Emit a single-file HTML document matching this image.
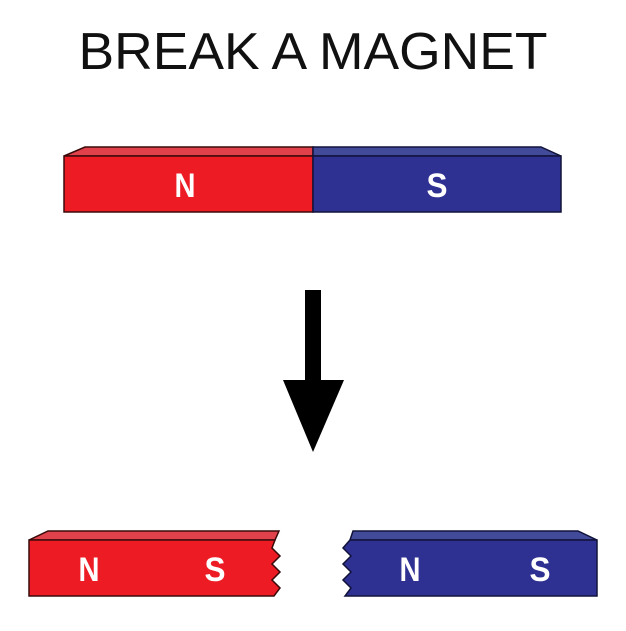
<!DOCTYPE html>
<html><head><style>html,body{margin:0;padding:0;background:#fff;}</style></head>
<body>
<svg width="626" height="626" viewBox="0 0 626 626" xmlns="http://www.w3.org/2000/svg">
<text x="313" y="69" text-anchor="middle" font-family="Liberation Sans, sans-serif" font-size="52" fill="#111" textLength="469" lengthAdjust="spacingAndGlyphs">BREAK A MAGNET</text>
<polygon points="64,156 85,147 313,147 313,156" fill="#e0414a" stroke="#3a0a0a" stroke-width="1.5"/>
<polygon points="313,156 313,147 541,147 561,156" fill="#424a9a" stroke="#10123a" stroke-width="1.5"/>
<rect x="64" y="156" width="249" height="56" fill="#ed1c24" stroke="#3a0a0a" stroke-width="1.5"/>
<rect x="313" y="156" width="248" height="56" fill="#2e3192" stroke="#10123a" stroke-width="1.5"/>
<g font-family="Liberation Sans, sans-serif" font-weight="bold" font-size="34" fill="#fff" text-anchor="middle">
<text x="185" y="197" textLength="21" lengthAdjust="spacingAndGlyphs">N</text>
<text x="437" y="197" textLength="21" lengthAdjust="spacingAndGlyphs">S</text>
<text x="89" y="581" textLength="21" lengthAdjust="spacingAndGlyphs">N</text>
<text x="215" y="581" textLength="21" lengthAdjust="spacingAndGlyphs">S</text>
<text x="410" y="581" textLength="21" lengthAdjust="spacingAndGlyphs">N</text>
<text x="540" y="581" textLength="21" lengthAdjust="spacingAndGlyphs">S</text>
</g>
<rect x="305" y="290" width="16" height="92" fill="#000"/>
<polygon points="283,380 344,380 313,452" fill="#000"/>
<polygon points="29,540 48,531 279,531 275,540" fill="#e0414a" stroke="#3a0a0a" stroke-width="1.5"/>
<polygon points="29,540 275,540 272,548 280,556 272,564 280,572 272,580 280,588 274,596 29,596" fill="#ed1c24" stroke="#3a0a0a" stroke-width="1.5"/>
<polygon points="350,540 353,531 578,531 597,540" fill="#424a9a" stroke="#10123a" stroke-width="1.5"/>
<polygon points="350,540 597,540 597,596 345,596 351,588 343,580 351,572 343,564 351,556 343,548" fill="#2e3192" stroke="#10123a" stroke-width="1.5"/>
<g font-family="Liberation Sans, sans-serif" font-weight="bold" font-size="34" fill="#fff" text-anchor="middle">
<text x="89" y="581" textLength="21" lengthAdjust="spacingAndGlyphs">N</text>
<text x="215" y="581" textLength="21" lengthAdjust="spacingAndGlyphs">S</text>
<text x="410" y="581" textLength="21" lengthAdjust="spacingAndGlyphs">N</text>
<text x="540" y="581" textLength="21" lengthAdjust="spacingAndGlyphs">S</text>
</g>
</svg>
</body></html>
